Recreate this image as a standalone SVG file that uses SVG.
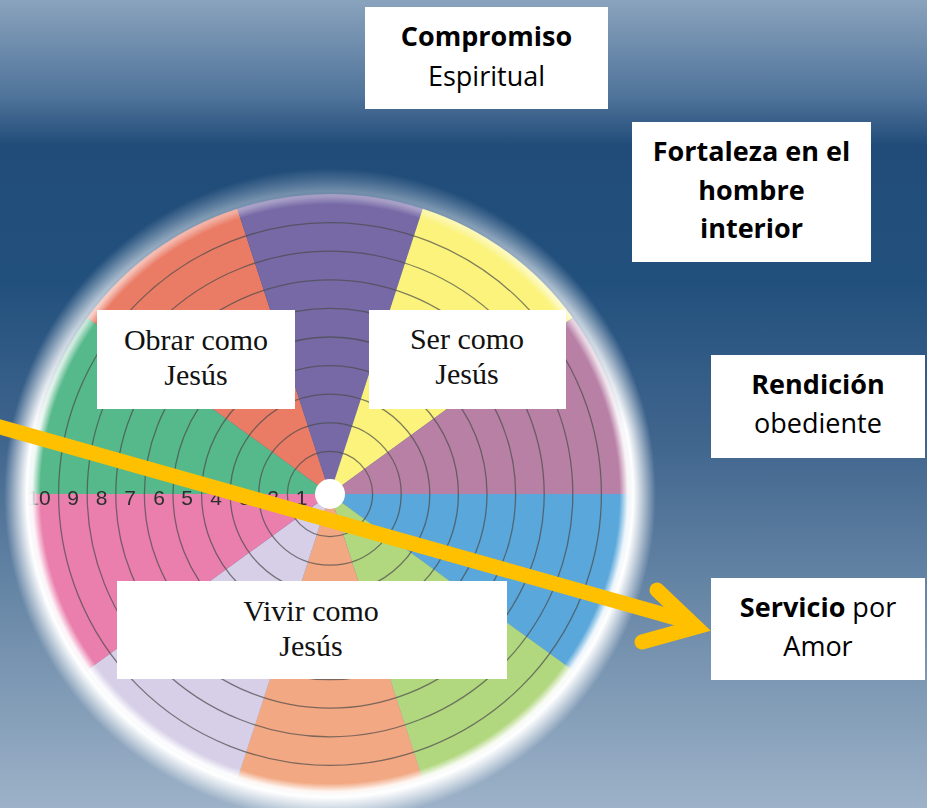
<svg xmlns="http://www.w3.org/2000/svg" width="927" height="808" viewBox="0 0 927 808">
<defs>
<linearGradient id="bg" x1="0" y1="0" x2="0" y2="1">
<stop offset="0" stop-color="#8aa3bd"/>
<stop offset="0.12" stop-color="#4f739a"/>
<stop offset="0.18" stop-color="#214c79"/>
<stop offset="0.35" stop-color="#22507d"/>
<stop offset="0.55" stop-color="#41668e"/>
<stop offset="0.75" stop-color="#6a89a8"/>
<stop offset="1" stop-color="#9db2c8"/>
</linearGradient>
<radialGradient id="halo" gradientUnits="userSpaceOnUse" cx="330" cy="494" r="326">
<stop offset="0" stop-color="#fff" stop-opacity="0"/>
<stop offset="0.888" stop-color="#fff" stop-opacity="0"/>
<stop offset="0.913" stop-color="#fff" stop-opacity="0.9"/>
<stop offset="0.93" stop-color="#fff" stop-opacity="1"/>
<stop offset="0.955" stop-color="#fff" stop-opacity="0.65"/>
<stop offset="1" stop-color="#fff" stop-opacity="0"/>
</radialGradient>
<linearGradient id="mg" gradientUnits="userSpaceOnUse" x1="0" y1="180" x2="0" y2="430">
<stop offset="0" stop-color="#555"/>
<stop offset="1" stop-color="#fff"/>
</linearGradient>
<mask id="hm" maskUnits="userSpaceOnUse" x="0" y="0" width="927" height="808">
<rect x="0" y="0" width="927" height="808" fill="url(#mg)"/>
</mask>
<filter id="soft" x="-5%" y="-5%" width="110%" height="110%">
<feGaussianBlur stdDeviation="0.7"/>
</filter>
<style>
.ring{fill:none;stroke:#4a4a4a;stroke-opacity:0.7;stroke-width:1.3}
.num{font-family:"Liberation Sans",Arial,sans-serif;font-size:21px;fill:#2e2e2e;text-anchor:middle}
.box{fill:#fff}
.serif{font-family:"Liberation Serif","Times New Roman",serif;font-size:30px;fill:#111;text-anchor:middle}
.sans{font-family:"Open Sans","Liberation Sans",sans-serif;font-size:27px;fill:#000;text-anchor:middle}
.b{font-weight:bold}
.arrow{fill:none;stroke:#ffc000;stroke-width:15}
</style>
</defs>
<rect x="0" y="0" width="927" height="808" fill="url(#bg)"/>
<g id="wheel" filter="url(#soft)">
<path d="M330 494 L630 494 A300 300 0 0 1 572.705 670.336 Z" fill="#5aa7db"/>
<path d="M330 494 L572.705 670.336 A300 300 0 0 1 422.705 779.317 Z" fill="#b1d77f"/>
<path d="M330 494 L422.705 779.317 A300 300 0 0 1 237.295 779.317 Z" fill="#f2a882"/>
<path d="M330 494 L237.295 779.317 A300 300 0 0 1 87.295 670.336 Z" fill="#d6cfe7"/>
<path d="M330 494 L87.295 670.336 A300 300 0 0 1 30 494 Z" fill="#ea7fad"/>
<path d="M330 494 L30 494 A300 300 0 0 1 87.295 317.664 Z" fill="#56b98b"/>
<path d="M330 494 L87.295 317.664 A300 300 0 0 1 237.295 208.683 Z" fill="#ea7c66"/>
<path d="M330 494 L237.295 208.683 A300 300 0 0 1 422.705 208.683 Z" fill="#7669a6"/>
<path d="M330 494 L422.705 208.683 A300 300 0 0 1 572.705 317.664 Z" fill="#fbf37c"/>
<path d="M330 494 L572.705 317.664 A300 300 0 0 1 630 494 Z" fill="#b980a6"/>
<g>
<circle class="ring" cx="330" cy="494" r="42.6"/>
<circle class="ring" cx="330" cy="494" r="71.2"/>
<circle class="ring" cx="330" cy="494" r="99.8"/>
<circle class="ring" cx="330" cy="494" r="128.4"/>
<circle class="ring" cx="330" cy="494" r="157"/>
<circle class="ring" cx="330" cy="494" r="185.6"/>
<circle class="ring" cx="330" cy="494" r="214.2"/>
<circle class="ring" cx="330" cy="494" r="242.8"/>
<circle class="ring" cx="330" cy="494" r="271.4"/>
</g>
<circle cx="330" cy="494" r="15" fill="#fff"/>
<g>
<text class="num" x="301.7" y="505">1</text>
<text class="num" x="273" y="505">2</text>
<text class="num" x="244.5" y="505">3</text>
<text class="num" x="216" y="505">4</text>
<text class="num" x="187" y="505">5</text>
<text class="num" x="159" y="505">6</text>
<text class="num" x="130" y="505">7</text>
<text class="num" x="101.5" y="505">8</text>
<text class="num" x="73" y="505">9</text>
<text class="num" x="39" y="505">10</text>
</g>
</g>
<circle cx="330" cy="494" r="326" fill="url(#halo)" mask="url(#hm)"/>
<g id="obrar">
<rect class="box" x="97" y="310" width="198" height="99"/>
<text class="serif" x="196" y="350">Obrar como</text>
<text class="serif" x="196" y="385">Jesús</text>
</g>
<g id="ser">
<rect class="box" x="369" y="310" width="197" height="99"/>
<text class="serif" x="467" y="349">Ser como</text>
<text class="serif" x="467" y="384">Jesús</text>
</g>
<g id="vivir">
<rect class="box" x="117" y="581" width="390" height="98"/>
<text class="serif" x="311" y="621">Vivir como</text>
<text class="serif" x="311" y="656">Jesús</text>
</g>
<g id="compromiso">
<rect class="box" x="365" y="7" width="243" height="102"/>
<text class="sans b" x="486.5" y="46">Compromiso</text>
<text class="sans" x="486.5" y="86">Espiritual</text>
</g>
<g id="fortaleza">
<rect class="box" x="632" y="122" width="239" height="140"/>
<text class="sans b" x="751.5" y="161">Fortaleza en el</text>
<text class="sans b" x="751.5" y="200">hombre</text>
<text class="sans b" x="751.5" y="238">interior</text>
</g>
<g id="rendicion">
<rect class="box" x="711" y="355" width="214" height="103"/>
<text class="sans b" x="818" y="394">Rendición</text>
<text class="sans" x="818" y="433">obediente</text>
</g>
<g id="servicio">
<rect class="box" x="711" y="578" width="214" height="102"/>
<text class="sans" x="818" y="617"><tspan class="b">Servicio</tspan> por</text>
<text class="sans" x="818" y="656">Amor</text>
</g>
<g id="connectors">
<line class="arrow" x1="-5" y1="425.6" x2="690" y2="622"/>
<polyline class="arrow" points="657,590 696,627 642,642" stroke-linecap="round" stroke-linejoin="miter"/>
</g>
</svg>
